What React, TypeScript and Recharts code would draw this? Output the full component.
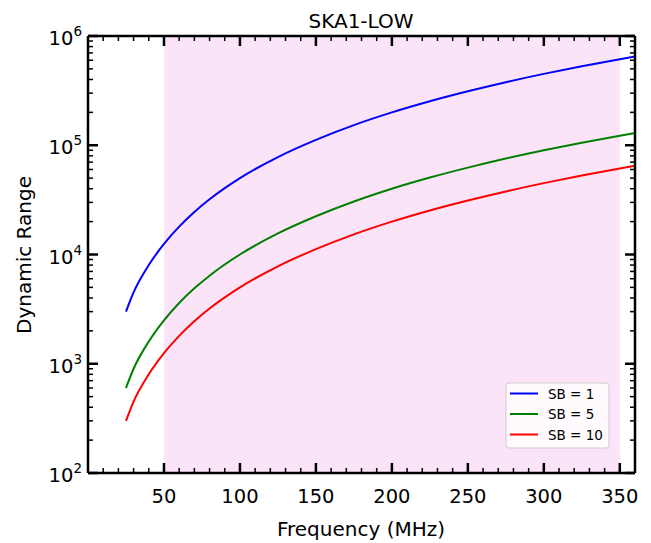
import {
  LineChart,
  Line,
  XAxis,
  YAxis,
  ReferenceArea,
} from "recharts"

const freq = [25, 30, 40, 50, 60, 70, 80, 100, 125, 150, 175, 200, 225, 250, 275, 300, 325, 350, 360]
const sb1 = [3000, 4500, 8000, 12500, 18000, 24500, 32000, 50000, 78000, 112000, 153000, 200000, 253000, 312000, 378000, 450000, 528000, 612000, 648000]
const sb5 = [600, 900, 1600, 2500, 3600, 4900, 6400, 10000, 15600, 22400, 30600, 40000, 50600, 62400, 75600, 90000, 105600, 122400, 129600]
const sb10 = [300, 450, 800, 1250, 1800, 2450, 3200, 5000, 7800, 11200, 15300, 20000, 25300, 31200, 37800, 45000, 52800, 61200, 64800]

const xMajor = [50, 100, 150, 200, 250, 300, 350]
const xTicks = [10, 20, 30, 40, 50, 60, 70, 80, 90, 100, 110, 120, 130, 140, 150, 160, 170, 180, 190, 200, 210, 220, 230, 240, 250, 260, 270, 280, 290, 300, 310, 320, 330, 340, 350]
const yMajor = [100, 1000, 10000, 100000, 1000000]
const yMinorMult = [2, 3, 4, 5, 6, 7, 8, 9]
const yTicks = [
  ...yMajor,
  ...yMajor.slice(0, 4).flatMap((d) => yMinorMult.map((m) => d * m)),
].sort((a, b) => a - b)

const series = [
  { key: "sb1", name: "SB = 1", color: "#0000ff", values: sb1 },
  { key: "sb5", name: "SB = 5", color: "#008000", values: sb5 },
  { key: "sb10", name: "SB = 10", color: "#ff0000", values: sb10 },
]

const data = freq.map((f, i) => ({
  f,
  sb1: sb1[i],
  sb5: sb5[i],
  sb10: sb10[i],
}))

const FONT = "DejaVu Sans, sans-serif"
const W = 643
const H = 535

const isMajorY = (v: number) => yMajor.includes(v)

const BottomTick = (props: any) => {
  const { x, y, payload } = props
  const major = xMajor.includes(payload.value)
  return (
    <g>
      <line x1={x} x2={x} y1={y} y2={y - (major ? 10 : 5)} stroke="#000" strokeWidth={major ? 2.5 : 1.5} />
      {major && (
        <text x={x} y={y + 30} textAnchor="middle" fontSize={19.5} fontFamily={FONT} fill="#000">
          {payload.value}
        </text>
      )}
    </g>
  )
}

const TopTick = (props: any) => {
  const { x, y, payload } = props
  const major = xMajor.includes(payload.value)
  return (
    <line x1={x} x2={x} y1={y} y2={y + (major ? 10 : 5)} stroke="#000" strokeWidth={major ? 2.5 : 1.5} />
  )
}

const LeftTick = (props: any) => {
  const { x, y, payload } = props
  const major = isMajorY(payload.value)
  const exp = Math.round(Math.log10(payload.value))
  return (
    <g>
      <line x1={x} x2={x + (major ? 10 : 5)} y1={y} y2={y} stroke="#000" strokeWidth={major ? 2.5 : 1.5} />
      {major && (
        <text x={x - 6} y={y + 9} textAnchor="end" fontSize={19.5} fontFamily={FONT} fill="#000">
          10
          <tspan fontSize={13.5} dy={-9}>{exp}</tspan>
        </text>
      )}
    </g>
  )
}

const RightTick = (props: any) => {
  const { x, y, payload } = props
  const major = isMajorY(payload.value)
  return (
    <line x1={x} x2={x - (major ? 10 : 5)} y1={y} y2={y} stroke="#000" strokeWidth={major ? 2.5 : 1.5} />
  )
}

const axisLine = { stroke: "#000", strokeWidth: 2.5 }

export default function App() {
  return (
    <div style={{ position: "relative", width: W, height: H }}>
      <LineChart
        width={W}
        height={H}
        data={data}
        margin={{ top: 27, right: 14, bottom: 0, left: 0 }}
      >
        <ReferenceArea x1={50} x2={350} fill="#fbe4f8" fillOpacity={1} stroke="none" ifOverflow="hidden" />
        {series.map((s) => (
          <Line
            key={s.key}
            dataKey={s.key}
            name={s.name}
            type="monotone"
            stroke={s.color}
            strokeWidth={2}
            dot={false}
            isAnimationActive={false}
          />
        ))}
        <XAxis
          dataKey="f"
          type="number"
          domain={[0, 360]}
          ticks={xTicks}
          interval={0}
          allowDataOverflow
          height={70}
          tickSize={0}
          tickMargin={0}
          tickLine={false}
          axisLine={axisLine}
          tick={<BottomTick />}
        />
        <XAxis
          xAxisId="top"
          orientation="top"
          dataKey="f"
          type="number"
          domain={[0, 360]}
          ticks={xTicks}
          interval={0}
          allowDataOverflow
          height={1}
          tickSize={0}
          tickMargin={0}
          tickLine={false}
          axisLine={axisLine}
          tick={<TopTick />}
        />
        <YAxis
          type="number"
          scale="log"
          domain={[100, 1000000]}
          ticks={yTicks}
          interval={0}
          allowDataOverflow
          width={80}
          tickSize={0}
          tickMargin={0}
          tickLine={false}
          axisLine={axisLine}
          tick={<LeftTick />}
        />
        <YAxis
          yAxisId="right"
          orientation="right"
          type="number"
          scale="log"
          domain={[100, 1000000]}
          ticks={yTicks}
          interval={0}
          allowDataOverflow
          width={2}
          tickSize={0}
          tickMargin={0}
          tickLine={false}
          axisLine={axisLine}
          tick={<RightTick />}
        />
      </LineChart>
      <svg
        width={W}
        height={H}
        style={{ position: "absolute", left: 0, top: 0, pointerEvents: "none" }}
        fontFamily={FONT}
      >
        <text x={353} y={19.5} textAnchor="middle" fontSize={20} fill="#000">
          SKA1-LOW
        </text>
        <text x={353} y={527.5} textAnchor="middle" fontSize={20} fill="#000">
          Frequency (MHz)
        </text>
        <text
          x={23}
          y={247}
          textAnchor="middle"
          fontSize={20}
          fill="#000"
          transform="rotate(-90 23 247)"
        >
          Dynamic Range
        </text>
        <rect x={498} y={375} width={103} height={65} rx={3} fill="#ffffff" fillOpacity={0.8} stroke="#cccccc" strokeWidth={1} />
        {series.map((s, i) => (
          <g key={s.key}>
            <line x1={502} x2={530} y1={385.5 + i * 20.5} y2={385.5 + i * 20.5} stroke={s.color} strokeWidth={2} />
            <text x={540} y={390.5 + i * 20.5} fontSize={13.5} fill="#000">
              {s.name}
            </text>
          </g>
        ))}
      </svg>
    </div>
  )
}
